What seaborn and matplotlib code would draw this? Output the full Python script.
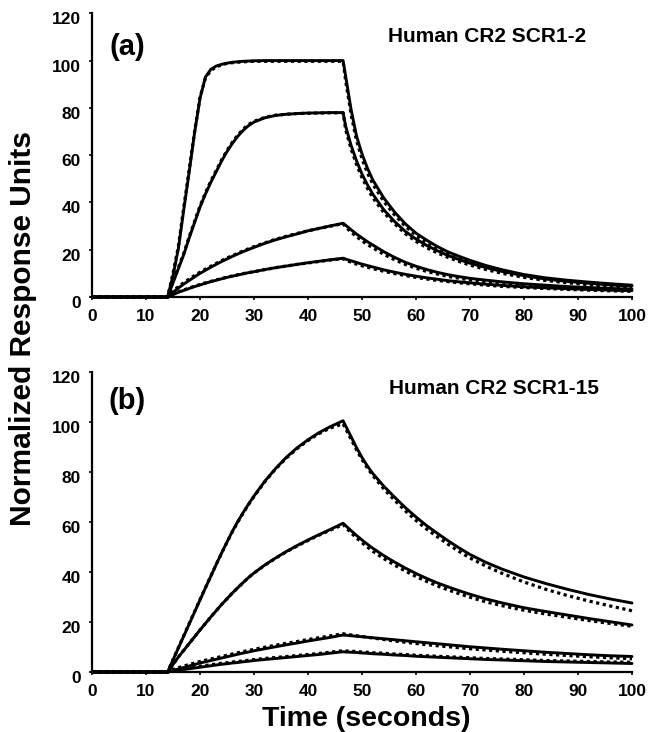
import matplotlib
matplotlib.use("Agg")
import matplotlib.pyplot as plt
import matplotlib.transforms as mtransforms
import seaborn as sns

# ---------------- data ----------------
time_s = [0, 14,
          15, 16, 17, 18, 19, 20, 21, 22, 23, 24, 25, 26, 27, 28, 29, 30,
          32, 34, 36, 38, 40, 42, 44, 46.5,
          47, 48, 49, 50, 51, 52, 54, 56, 58, 60, 62, 64, 66, 68, 70, 73, 76, 80, 84, 88, 92, 96, 100]

# panel (a): Human CR2 SCR1-2  (solid = measured, dotted = fit)
a1_solid = [0, 0,
            9, 20.5, 37, 53, 69.5, 84, 93, 96.3, 97.7, 98.4, 98.9, 99.3, 99.5, 99.7, 99.8, 99.9,
            100, 100, 100, 100, 100, 100, 100, 100,
            93, 79, 68, 60.5, 54.5, 49.5, 42, 36, 31, 27, 24, 21.3, 19, 17.2, 15.5, 13.3, 11.5, 9.5, 8.1, 7.1, 6.3, 5.6, 5]
a1_dot = [0, 0,
          10, 21.5, 38, 54, 70, 84.5, 92.5, 95.8, 97.3, 98.2, 98.8, 99.1, 99.3, 99.5, 99.6, 99.7,
          99.7, 99.7, 99.7, 99.7, 99.7, 99.7, 99.7, 99.7,
          91, 77, 66, 58.5, 52.5, 47.8, 40.5, 34.8, 30, 26, 23, 20.4, 18.2, 16.3, 14.6, 12.5, 10.8, 8.9, 7.5, 6.5, 5.6, 4.9, 4.3]
a2_solid = [0, 0,
            6, 12, 18, 25, 31.5, 38, 43.5, 48.5, 53, 57.5, 61.5, 65, 68, 70.5, 72.5, 74,
            75.8, 76.8, 77.3, 77.6, 77.8, 77.9, 78, 78,
            72, 64, 57.5, 52, 47.5, 43.5, 37, 32, 27.8, 24.5, 21.8, 19.5, 17.5, 15.8, 14.3, 12.4, 10.8, 9, 7.6, 6.6, 5.8, 5.1, 4.6]
a2_dot = [0, 0,
          6.5, 12.5, 18.5, 25.5, 32, 38.5, 44, 49, 53.5, 58, 62, 65.5, 68.5, 71, 73, 74.3,
          76, 76.9, 77.3, 77.6, 77.7, 77.8, 77.9, 77.9,
          70.5, 62.5, 56, 50.5, 46, 42, 35.8, 31, 26.8, 23.5, 20.8, 18.6, 16.7, 15, 13.5, 11.6, 10, 8.3, 7, 6, 5.2, 4.6, 4]
a3_solid = [0, 0,
            2, 3.8, 5.5, 7, 8.5, 10, 11.3, 12.6, 13.8, 15, 16.1, 17.2, 18.2, 19.2, 20.1, 21,
            22.7, 24.2, 25.5, 26.7, 28, 29, 30, 31.2,
            30.3, 28.4, 26.6, 25, 23.4, 22, 19.2, 16.8, 14.7, 13, 11.6, 10.4, 9.4, 8.6, 7.9, 7.1, 6.4, 5.6, 5, 4.4, 4, 3.6, 3.3]
a3_dot = [0, 0,
          2.5, 4.4, 6.1, 7.6, 9.1, 10.5, 11.8, 13, 14.2, 15.4, 16.5, 17.5, 18.5, 19.5, 20.4, 21.3,
          22.9, 24.4, 25.7, 26.9, 28, 29, 29.9, 31,
          29.5, 27.4, 25.5, 23.8, 22.2, 20.8, 18.1, 15.8, 13.8, 12.2, 10.8, 9.7, 8.7, 7.9, 7.2, 6.4, 5.7, 5, 4.4, 3.9, 3.5, 3.1, 2.8]
a4_solid = [0, 0,
            1, 2, 2.8, 3.6, 4.4, 5.1, 5.8, 6.5, 7.1, 7.7, 8.3, 8.8, 9.3, 9.8, 10.3, 10.7,
            11.6, 12.4, 13.1, 13.8, 14.5, 15.1, 15.7, 16.4,
            16, 15.3, 14.6, 13.9, 13.3, 12.7, 11.5, 10.5, 9.6, 8.8, 8.1, 7.5, 6.9, 6.4, 6, 5.4, 4.9, 4.3, 3.9, 3.5, 3.2, 2.9, 2.7]
a4_dot = [0, 0,
          1.2, 2.2, 3, 3.8, 4.6, 5.3, 6, 6.6, 7.2, 7.8, 8.4, 8.9, 9.4, 9.9, 10.3, 10.7,
          11.6, 12.4, 13.1, 13.8, 14.4, 15, 15.6, 16.2,
          15.5, 14.7, 13.9, 13.2, 12.6, 12, 10.9, 9.9, 9.1, 8.3, 7.6, 7, 6.5, 6, 5.6, 5, 4.5, 4, 3.6, 3.2, 2.9, 2.6, 2.4]

# panel (b): Human CR2 SCR1-15
b1_solid = [0, 0,
            4.8, 9.6, 14.4, 19.2, 24, 28.8, 33.6, 38.3, 43, 47.6, 52, 56.3, 60.2, 63.8, 67.2, 70.4,
            76.3, 81.4, 85.9, 89.7, 92.9, 95.7, 98, 100.5,
            98.3, 94, 89.7, 85.8, 82.4, 79.4, 74.4, 70, 65.8, 62, 58.5, 55.4, 52.4, 49.6, 47, 43.8, 41.1, 38, 35.4, 33.1, 31, 29.2, 27.6]
b1_dot = [0, 0,
          5, 9.8, 14.6, 19.4, 24.2, 29, 33.7, 38.4, 43, 47.5, 51.9, 56.1, 60, 63.6, 67, 70.2,
          76.1, 81.2, 85.6, 89.4, 92.6, 95.3, 97.5, 99.3,
          97.2, 93, 88.8, 85, 81.6, 78.6, 73.3, 68.8, 64.5, 60.6, 57.1, 54, 51, 48.2, 45.6, 42.3, 39.4, 36, 33.1, 30.6, 28.4, 26.4, 24.5]
b2_solid = [0, 0,
            3, 6, 8.7, 11.4, 14.1, 16.8, 19.4, 22, 24.5, 27, 29.3, 31.6, 33.7, 35.8, 37.8, 39.6,
            42.8, 45.6, 48.2, 50.6, 52.8, 54.9, 56.9, 59.5,
            58.5, 56.5, 54.6, 52.8, 51.1, 49.5, 46.6, 44, 41.6, 39.4, 37.4, 35.6, 34, 32.5, 31.1, 29.2, 27.6, 25.7, 24.2, 22.8, 21.4, 20.1, 18.8]
b2_dot = [0, 0,
          3, 6, 8.7, 11.4, 14.1, 16.8, 19.4, 22, 24.5, 27, 29.3, 31.6, 33.7, 35.8, 37.8, 39.6,
          42.7, 45.5, 48.1, 50.4, 52.6, 54.7, 56.6, 59,
          57.8, 55.6, 53.6, 51.7, 50, 48.3, 45.4, 42.8, 40.4, 38.2, 36.2, 34.4, 32.8, 31.3, 29.9, 28, 26.5, 24.7, 23.2, 21.9, 20.6, 19.4, 18.3]
b3_solid = [0, 0,
            0.6, 1.2, 1.8, 2.4, 3, 3.6, 4.1, 4.6, 5.1, 5.6, 6.1, 6.6, 7.1, 7.6, 8, 8.5,
            9.3, 10.1, 10.9, 11.6, 12.4, 13.1, 13.8, 14.8,
            14.7, 14.5, 14.3, 14.1, 13.9, 13.7, 13.3, 12.9, 12.5, 12.1, 11.7, 11.3, 10.9, 10.5, 10.1, 9.6, 9.1, 8.5, 7.9, 7.4, 6.9, 6.5, 6.2]
b3_dot = [0, 0,
          1, 1.7, 2.4, 3, 3.6, 4.2, 4.7, 5.2, 5.7, 6.2, 6.7, 7.2, 7.7, 8.2, 8.6, 9.1,
          9.9, 10.7, 11.5, 12.2, 13, 13.7, 14.4, 15.3,
          15.1, 14.8, 14.5, 14.2, 13.9, 13.6, 13, 12.4, 11.9, 11.4, 10.9, 10.5, 10.1, 9.7, 9.3, 8.8, 8.3, 7.7, 7.1, 6.6, 6.1, 5.7, 5.3]
b4_solid = [0, 0,
            0.4, 0.7, 1, 1.3, 1.6, 1.9, 2.2, 2.5, 2.8, 3.1, 3.3, 3.6, 3.8, 4.1, 4.3, 4.6,
            5, 5.4, 5.8, 6.2, 6.6, 7, 7.5, 8.1,
            8, 7.9, 7.8, 7.6, 7.5, 7.3, 7.1, 6.8, 6.6, 6.3, 6.1, 5.9, 5.7, 5.5, 5.3, 5, 4.8, 4.5, 4.2, 4, 3.8, 3.6, 3.4]
b4_dot = [0, 0,
          0.6, 1, 1.4, 1.7, 2, 2.3, 2.6, 2.9, 3.2, 3.5, 3.7, 4, 4.2, 4.5, 4.7, 5,
          5.4, 5.8, 6.2, 6.6, 7, 7.4, 7.9, 8.5,
          8.4, 8.3, 8.2, 8, 7.9, 7.7, 7.5, 7.2, 7, 6.7, 6.5, 6.3, 6.1, 5.9, 5.7, 5.4, 5.2, 4.9, 4.6, 4.4, 4.2, 4, 3.9]

x_ticks = [0, 10, 20, 30, 40, 50, 60, 70, 80, 90, 100]
y_ticks = [0, 20, 40, 60, 80, 100, 120]
panel_labels = ["(a)", "(b)"]
panel_titles = ["Human CR2 SCR1-2", "Human CR2 SCR1-15"]
x_label = "Time (seconds)"
y_label = "Normalized Response Units"

# ---------------- style ----------------
sns.set_style("ticks")
plt.rcParams["font.family"] = ["Liberation Sans", "DejaVu Sans"]
plt.rcParams["font.weight"] = "bold"
plt.rcParams["text.color"] = "black"
plt.rcParams["axes.labelcolor"] = "black"
plt.rcParams["xtick.color"] = "black"
plt.rcParams["ytick.color"] = "black"
plt.rcParams["axes.edgecolor"] = "black"

fig = plt.figure(figsize=(6.5, 7.32), dpi=100)
W, H = 650.0, 732.0
ax_a = fig.add_axes([92 / W, (H - 297) / H, 540 / W, 283.7 / H])
ax_b = fig.add_axes([92 / W, (H - 672) / H, 540 / W, 300 / H])

panels = [
    (ax_a, [a1_solid, a2_solid, a3_solid, a4_solid], [a1_dot, a2_dot, a3_dot, a4_dot]),
    (ax_b, [b1_solid, b2_solid, b3_solid, b4_solid], [b1_dot, b2_dot, b3_dot, b4_dot]),
]

for ax, solids, dots in panels:
    for s_vals, d_vals in zip(solids, dots):
        sns.lineplot(x=time_s, y=d_vals, ax=ax, color="black", lw=2.3,
                     linestyle=(0, (1, 1.1)), estimator=None, sort=False,
                     clip_on=False)
        sns.lineplot(x=time_s, y=s_vals, ax=ax, color="black", lw=2.1,
                     estimator=None, sort=False, clip_on=False)
    ax.set_xlim(0, 100)
    ax.set_ylim(0, 120)
    ax.set_xticks(x_ticks)
    ax.set_yticks(y_ticks)
    ax.set_xlabel("")
    ax.set_ylabel("")
    for side in ["top", "right"]:
        ax.spines[side].set_visible(False)
    for side in ["left", "bottom"]:
        ax.spines[side].set_linewidth(1.6)
        ax.spines[side].set_color("black")
    ax.tick_params(axis="both", which="major", length=2, width=1.2, color="black",
                   labelsize=12.5, labelcolor="black")
    ax.tick_params(axis="x", pad=7)
    ax.tick_params(axis="y", pad=6)
    for lab in ax.get_xticklabels() + ax.get_yticklabels():
        lab.set_fontweight("bold")
    off = mtransforms.ScaledTranslation(0, -5 / 100.0, fig.dpi_scale_trans)
    for lab in ax.get_yticklabels():
        lab.set_transform(lab.get_transform() + off)

# panel letters and titles
fig.text(127 / W, 1 - 47 / H, panel_labels[0], ha="center", va="center",
         fontsize=21, fontweight="bold")
fig.text(127 / W, 1 - 401 / H, panel_labels[1], ha="center", va="center",
         fontsize=21, fontweight="bold")
fig.text(487 / W, 1 - 36 / H, panel_titles[0], ha="center", va="center",
         fontsize=15, fontweight="bold")
fig.text(494 / W, 1 - 389 / H, panel_titles[1], ha="center", va="center",
         fontsize=15, fontweight="bold")

fig.text(366 / W, 1 - 719 / H, x_label, ha="center", va="center",
         fontsize=20.5, fontweight="bold")
fig.text(23 / W, 1 - 328 / H, y_label, ha="center", va="center", rotation=90,
         fontsize=21.5, fontweight="bold")

fig.savefig("out.png", dpi=100, facecolor="white")
